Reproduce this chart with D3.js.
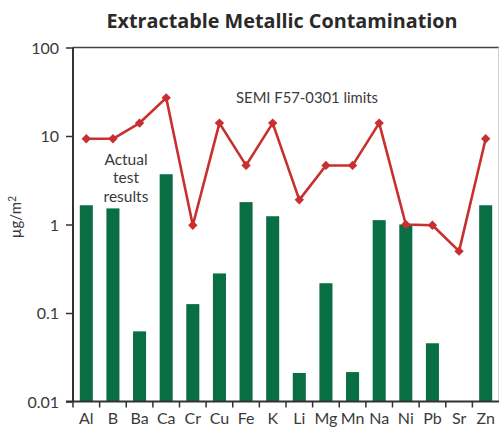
<!DOCTYPE html>
<html>
<head>
<meta charset="utf-8">
<script src="https://cdn.jsdelivr.net/npm/d3@7/dist/d3.min.js"></script>
<style>
  html, body { margin: 0; padding: 0; background: #fff; }
  svg { display: block; }
  text { font-family: Lato, "Open Sans", sans-serif; fill: #3a3a3a; }
</style>
</head>
<body>
<svg id="chart" width="499" height="428"></svg>
<script>
// Element symbols along the x axis
const elements = ["Al", "B", "Ba", "Ca", "Cr", "Cu", "Fe", "K", "Li", "Mg", "Mn", "Na", "Ni", "Pb", "Sr", "Zn"];
// Measured extractable contamination, µg/m² (null = not detected)
const actualResults = [1.65, 1.52, 0.062, 3.7, 0.126, 0.28, 1.79, 1.24, 0.021, 0.217, 0.0215, 1.12, 1.0, 0.0455, null, 1.65];
// SEMI F57-0301 limits, µg/m²
const semiLimits = [9.3, 9.3, 14, 27, 0.98, 14, 4.65, 14, 1.9, 4.65, 4.65, 14, 1.0, 0.98, 0.5, 9.3];
// Log-axis tick values and labels
const yTicks = [0.01, 0.1, 1, 10, 100];
const yTickLabels = ["0.01", "0.1", "1", "10", "100"];

const green = "#0a6e45";
const red = "#c8302f";
const axisColor = "#333";

const svg = d3.select("#chart");
const plotLeft = 73, plotRight = 499, plotTop = 47.5, plotBottom = 401.5;

const x = d3.scaleBand()
  .domain(elements)
  .range([plotLeft, plotRight])
  .paddingInner(0.51)
  .paddingOuter(0.255);

const y = d3.scaleLog()
  .domain([0.01, 100])
  .range([plotBottom, plotTop]);

// Title
svg.append("text")
  .attr("x", 282)
  .attr("y", 28)
  .attr("text-anchor", "middle")
  .style("font-family", "'Open Sans', Lato, sans-serif")
  .style("font-weight", "700")
  .style("font-size", "19.8px")
  .style("fill", "#2a2a2a")
  .text("Extractable Metallic Contamination");

// Frame: top border and faint right edge
svg.append("line")
  .attr("x1", plotLeft).attr("x2", plotRight)
  .attr("y1", plotTop).attr("y2", plotTop)
  .attr("stroke", "#444").attr("stroke-width", 1.5);
svg.append("line")
  .attr("x1", plotRight - 0.5).attr("x2", plotRight - 0.5)
  .attr("y1", plotTop).attr("y2", plotBottom)
  .attr("stroke", "#d0d0d0").attr("stroke-width", 1);

// Bars
const barData = elements.map((e, i) => ({ e, v: actualResults[i] })).filter(d => d.v != null);
svg.append("g")
  .selectAll("rect")
  .data(barData)
  .join("rect")
  .attr("x", d => x(d.e))
  .attr("width", x.bandwidth())
  .attr("y", d => y(d.v))
  .attr("height", d => y(0.01) - y(d.v))
  .attr("fill", green);

// Limit line
const limitData = elements.map((e, i) => ({ e, v: semiLimits[i] }));
const cx = d => x(d.e) + x.bandwidth() / 2;
svg.append("path")
  .datum(limitData)
  .attr("fill", "none")
  .attr("stroke", red)
  .attr("stroke-width", 2.6)
  .attr("stroke-linejoin", "round")
  .attr("d", d3.line().x(cx).y(d => y(d.v)));

svg.append("g")
  .selectAll("path")
  .data(limitData)
  .join("path")
  .attr("d", d3.symbol(d3.symbolSquare, 44))
  .attr("transform", d => `translate(${cx(d)},${y(d.v)}) rotate(45)`)
  .attr("fill", red);

// Y axis
const yAxis = d3.axisLeft(y)
  .tickValues(yTicks)
  .tickFormat((d, i) => yTickLabels[i])
  .tickSize(7)
  .tickPadding(7);
const gy = svg.append("g")
  .attr("transform", `translate(${plotLeft},0)`)
  .call(yAxis);
gy.select(".domain").attr("stroke", axisColor).attr("stroke-width", 2).attr("d", `M0,${plotTop}V${plotBottom}`);
gy.selectAll(".tick line").attr("stroke", axisColor).attr("stroke-width", 1.5);
gy.selectAll(".tick text")
  .style("font-family", "Lato, sans-serif")
  .style("font-size", "16px")
  .attr("fill", "#3a3a3a")
  .attr("dy", "0.36em");

// X axis: labels at band centres, ticks at band boundaries
const xAxis = d3.axisBottom(x).tickSize(0).tickPadding(11);
const gx = svg.append("g")
  .attr("transform", `translate(0,${plotBottom})`)
  .call(xAxis);
gx.select(".domain").attr("stroke", axisColor).attr("stroke-width", 2).attr("d", `M${plotLeft - 7},0H${plotRight}`);
gx.selectAll(".tick text")
  .style("font-family", "Lato, sans-serif")
  .style("font-size", "16px")
  .attr("fill", "#3a3a3a");
const boundaries = d3.range(0, elements.length).map(i => plotLeft + i * x.step());
gx.selectAll(".sep")
  .data(boundaries)
  .join("line")
  .attr("class", "sep")
  .attr("x1", d => d).attr("x2", d => d)
  .attr("y1", 0).attr("y2", 6)
  .attr("stroke", axisColor).attr("stroke-width", 1.5);

// Y axis title
const yt = svg.append("text")
  .attr("transform", `translate(21,217) rotate(-90)`)
  .attr("text-anchor", "middle")
  .style("font-size", "15px");
yt.append("tspan").text("µg/m");
yt.append("tspan").attr("dy", "-0.45em").style("font-size", "10.5px").text("2");

// Series annotations
svg.append("text")
  .attr("x", 307)
  .attr("y", 103)
  .attr("text-anchor", "middle")
  .style("font-size", "14.8px")
  .text("SEMI F57-0301 limits");

const note = svg.append("text")
  .attr("x", 126)
  .attr("text-anchor", "middle")
  .style("font-size", "15.5px");
["Actual", "test", "results"].forEach((t, i) => {
  note.append("tspan").attr("x", 126).attr("y", 165 + i * 18.3).text(t);
});
</script>
</body>
</html>
